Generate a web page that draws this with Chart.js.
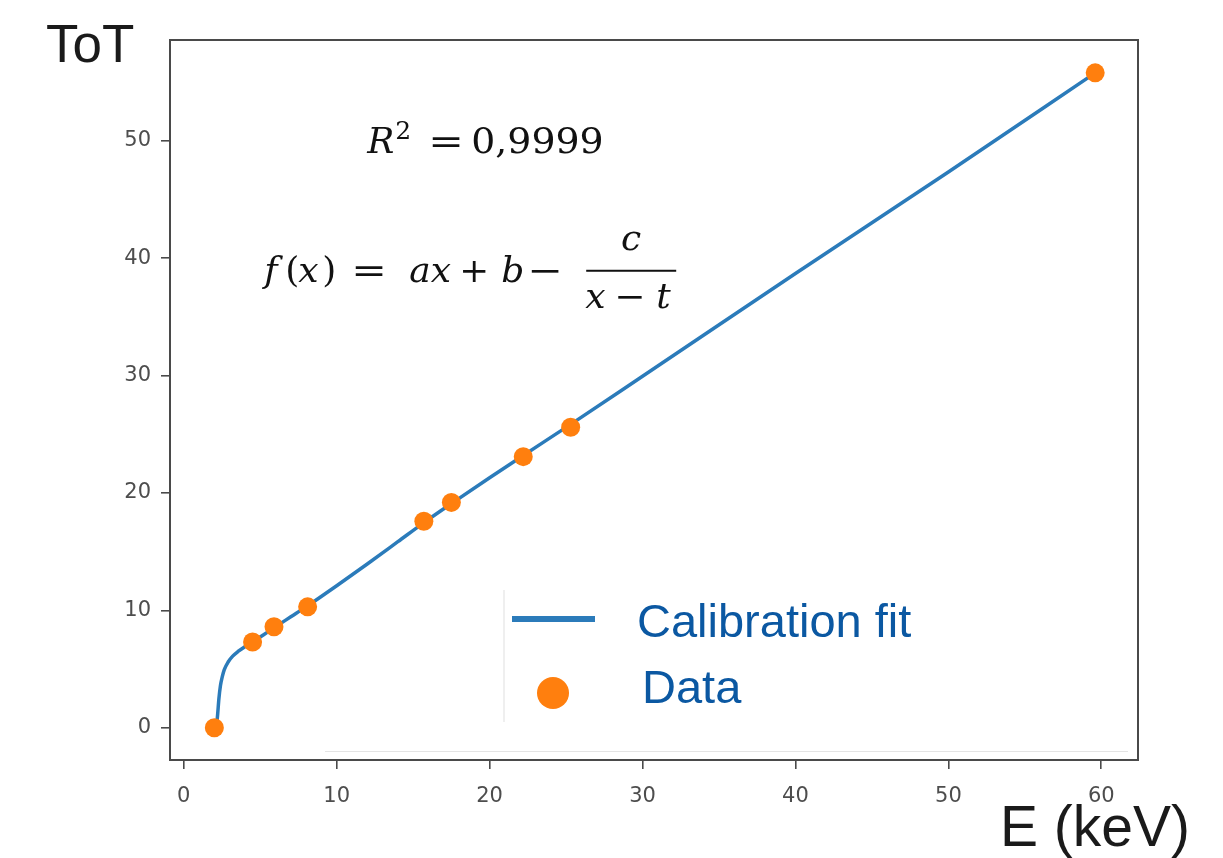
<!DOCTYPE html>
<html>
<head>
<meta charset="utf-8">
<script src="https://cdn.jsdelivr.net/npm/chart.js@4/dist/chart.umd.min.js"></script>
<style>
  html, body { margin: 0; padding: 0; background: #fff; }
  #wrap { width: 1223px; height: 858px; position: relative; }
  canvas { display: block; }
</style>
</head>
<body>
<div id="wrap"><canvas id="c" width="1223" height="858"></canvas></div>
<script>
// Measured calibration points: energy (keV) vs time over threshold
const energyKeV = [2.0, 4.5, 5.9, 8.1, 15.7, 17.5, 22.2, 25.3, 59.6];
const totValues = [0.0, 7.3, 8.6, 10.3, 17.6, 19.2, 23.1, 25.6, 55.8];

// Calibration fit curve samples
const fitEnergy = [2.12, 2.2, 2.3, 2.4, 2.52, 2.65, 2.9, 3.2, 3.55, 3.9, 4.5, 5.2, 6.0, 7.0, 8.0, 10.0, 12.0, 14.0, 15.73, 17.5, 20.0, 22.2, 25.3, 30.0, 40.0, 50.0, 59.6];
const fitToT    = [0.0, 0.9, 2.5, 3.6, 4.35, 4.95, 5.6, 6.1, 6.5, 6.82, 7.3, 7.9, 8.6, 9.45, 10.3, 12.1, 13.95, 15.85, 17.5, 19.1, 21.3, 23.2, 25.85, 29.95, 38.7, 47.35, 55.8];

// Axis ticks and ranges
const xTicks = [0, 10, 20, 30, 40, 50, 60];
const yTicks = [0, 10, 20, 30, 40, 50];
const xRange = [-0.9, 62.4];
const yRange = [-2.75, 58.6];

// Text
const seriesLabels = ['Calibration fit', 'Data'];
const xTitle = 'E (keV)';
const yTitle = 'ToT';
const r2Value = '0,9999';

const FIT_BLUE = '#2b7bba';
const DATA_ORANGE = '#ff7f0e';
const LEGEND_TEXT = '#0b58a2';
const AXIS_GREY = '#4a4a4a';

// Box around the plotting area
const framePlugin = {
  id: 'frame',
  beforeDatasetsDraw(chart) {
    const { ctx, chartArea: a } = chart;
    ctx.save();
    ctx.strokeStyle = AXIS_GREY;
    ctx.lineWidth = 2;
    ctx.strokeRect(a.left, a.top, a.right - a.left, a.bottom - a.top);
    ctx.restore();
  }
};

// Axis titles placed at the corners
const titlesPlugin = {
  id: 'cornerTitles',
  afterDraw(chart) {
    const { ctx, chartArea: a } = chart;
    ctx.save();
    ctx.fillStyle = '#1a1a1a';
    ctx.textBaseline = 'alphabetic';
    ctx.font = '53px "Liberation Sans", Arial, sans-serif';
    ctx.textAlign = 'left';
    ctx.fillText(yTitle, a.left - 124, a.top + 22);
    ctx.font = '57px "Liberation Sans", Arial, sans-serif';
    ctx.textAlign = 'right';
    ctx.fillText(xTitle, a.right + 52, a.bottom + 86);
    ctx.restore();
  }
};

// In-plot legend built from the datasets
const legendPlugin = {
  id: 'inPlotLegend',
  afterDatasetsDraw(chart) {
    const { ctx, chartArea: a } = chart;
    const fit = chart.data.datasets[1];
    const pts = chart.data.datasets[0];
    const x0 = a.left + 334;   // faint legend box edge
    const y0 = a.top + 550;
    ctx.save();
    // faint box edges
    ctx.strokeStyle = '#e4e4e4';
    ctx.lineWidth = 1.2;
    ctx.beginPath();
    ctx.moveTo(x0, y0); ctx.lineTo(x0, y0 + 132);
    ctx.moveTo(a.left + 155, a.bottom - 8.5); ctx.lineTo(a.right - 10, a.bottom - 8.5);
    ctx.stroke();
    // line swatch
    ctx.strokeStyle = fit.borderColor;
    ctx.lineWidth = 6;
    ctx.beginPath();
    ctx.moveTo(x0 + 8, y0 + 29);
    ctx.lineTo(x0 + 91, y0 + 29);
    ctx.stroke();
    // point swatch
    ctx.fillStyle = pts.backgroundColor;
    ctx.beginPath();
    ctx.arc(x0 + 49, y0 + 103, 16, 0, Math.PI * 2);
    ctx.fill();
    // labels
    ctx.fillStyle = LEGEND_TEXT;
    ctx.font = '47px "Liberation Sans", Arial, sans-serif';
    ctx.textAlign = 'left';
    ctx.textBaseline = 'alphabetic';
    ctx.fillText(fit.label, x0 + 133, y0 + 47);
    ctx.fillText(pts.label, x0 + 138, y0 + 113);
    ctx.restore();
  }
};

// Fit quality and fit function written inside the plot
const formulaPlugin = {
  id: 'formula',
  afterDatasetsDraw(chart) {
    const { ctx } = chart;
    const xs = chart.scales.x, ys = chart.scales.y;
    const serif = '"DejaVu Serif", "Liberation Serif", serif';
    const it = (s) => `italic ${s}px ${serif}`;
    const up = (s) => `${s}px ${serif}`;
    // draw one token; sx stretches it horizontally, align by left edge or centre
    const put = (txt, font, x, y, align, sx) => {
      ctx.save();
      ctx.font = font;
      ctx.textAlign = align || 'left';
      ctx.translate(x, y);
      ctx.scale(sx || 1, 1);
      ctx.fillText(txt, 0, 0);
      ctx.restore();
    };
    ctx.save();
    ctx.fillStyle = '#111';
    ctx.textBaseline = 'alphabetic';

    // R^2 line
    let bx = xs.getPixelForValue(12.0);
    let by = ys.getPixelForValue(49.0);
    put('R', it(36), bx, by);
    put('2', up(25), bx + 28, by - 14);
    put('=', up(34), bx + 61, by, 'left', 1.25);
    put(r2Value, up(36), bx + 104, by, 'left', 1.05);

    // f(x) line
    bx = xs.getPixelForValue(5.26);
    by = ys.getPixelForValue(38.0);
    put('f', it(36), bx, by);
    put('(', up(36), bx + 21, by);
    put('x', it(36), bx + 34, by);
    put(')', up(36), bx + 58, by);
    put('=', up(34), bx + 87, by, 'left', 1.25);
    put('ax', it(36), bx + 145, by);
    put('+', up(34), bx + 195, by, 'left', 1.05);
    put('b', it(36), bx + 237, by);
    put('\u2212', up(34), bx + 263, by, 'left', 1.25);
    // fraction
    const fc = bx + 367;
    ctx.fillRect(bx + 322, by - 12, 90, 2);
    put('c', it(36), fc, by - 32, 'center');
    put('x', it(36), bx + 321, by + 26);
    put('\u2212', up(34), bx + 350, by + 26, 'left', 1.1);
    put('t', it(36), bx + 392, by + 26);
    ctx.restore();
  }
};

const tickFont = { family: '"DejaVu Sans", sans-serif', size: 21 };

new Chart(document.getElementById('c'), {
  type: 'scatter',
  data: {
    datasets: [
      {
        label: seriesLabels[1],
        data: energyKeV.map((e, i) => ({ x: e, y: totValues[i] })),
        backgroundColor: DATA_ORANGE,
        borderColor: DATA_ORANGE,
        pointRadius: 9.5,
        pointBorderWidth: 0,
        order: 1
      },
      {
        label: seriesLabels[0],
        data: fitEnergy.map((e, i) => ({ x: e, y: fitToT[i] })),
        showLine: true,
        borderColor: FIT_BLUE,
        backgroundColor: FIT_BLUE,
        borderWidth: 3.5,
        pointRadius: 0,
        cubicInterpolationMode: 'monotone',
        order: 2
      }
    ]
  },
  options: {
    responsive: false,
    animation: false,
    devicePixelRatio: 1,
    layout: { padding: { left: 0, top: 40, right: 85, bottom: 0 } },
    plugins: {
      legend: { display: false },
      tooltip: { enabled: false },
      title: { display: false }
    },
    scales: {
      x: {
        type: 'linear',
        min: xRange[0],
        max: xRange[1],
        afterBuildTicks: (s) => { s.ticks = xTicks.map(v => ({ value: v })); },
        afterFit: (s) => { s.height = 98; },
        border: { display: false },
        grid: { display: true, drawOnChartArea: false, drawTicks: true, tickLength: 9, color: AXIS_GREY, lineWidth: 1.6 },
        ticks: { color: '#4d4d4d', font: tickFont, padding: 15, maxRotation: 0 }
      },
      y: {
        type: 'linear',
        min: yRange[0],
        max: yRange[1],
        afterBuildTicks: (s) => { s.ticks = yTicks.map(v => ({ value: v })); },
        afterFit: (s) => { s.width = 170; },
        border: { display: false },
        grid: { display: true, drawOnChartArea: false, drawTicks: true, tickLength: 9, color: AXIS_GREY, lineWidth: 1.6 },
        ticks: { color: '#4d4d4d', font: tickFont, padding: 10 }
      }
    }
  },
  plugins: [framePlugin, formulaPlugin, legendPlugin, titlesPlugin]
});
</script>
</body>
</html>
